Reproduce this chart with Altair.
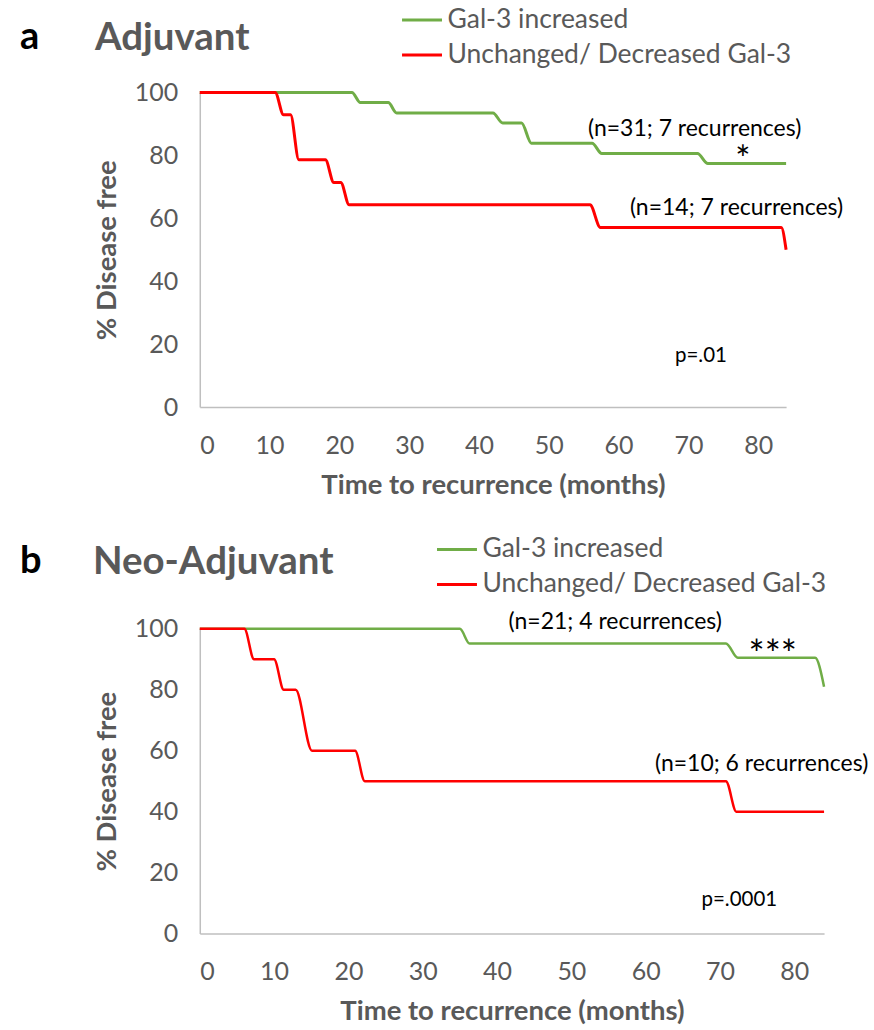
import altair as alt
import pandas as pd

series_names = ["Gal-3 increased", "Unchanged/ Decreased Gal-3"]
series_colors = ["#70AD47", "#FF0000"]

x_ticks = [0, 10, 20, 30, 40, 50, 60, 70, 80]
y_ticks = [0, 20, 40, 60, 80, 100]

# Panel a (Adjuvant)
a_green_t = [0, 21.8, 23.0, 27.0, 28.2, 42.0, 43.4, 46.1, 47.5, 56.2, 57.6, 71.3, 72.8, 84.0]
a_green_v = [100, 100, 96.8, 96.8, 93.5, 93.5, 90.3, 90.3, 83.9, 83.9, 80.6, 80.6, 77.4, 77.4]
a_red_t = [0, 10.8, 12.0, 13.0, 14.2, 18.0, 19.2, 20.2, 21.4, 55.9, 57.4, 83.3, 84.0]
a_red_v = [100, 100, 92.9, 92.9, 78.6, 78.6, 71.4, 71.4, 64.3, 64.3, 57.1, 57.1, 50.0]
a_note_text = ["(n=31; 7 recurrences)", "(n=14; 7 recurrences)"]
a_note_x = [70.9, 76.9]
a_note_y = [88.3, 63.2]
a_star_text = ["*"]
a_star_x = [77.8]
a_star_y = [78.1]
a_p_text = ["p=.01"]
a_p_x = [71.8]
a_p_y = [16.3]

# Panel b (Neo-Adjuvant)
b_green_t = [0, 35.0, 36.3, 70.8, 72.4, 82.8, 84.0]
b_green_v = [100, 100, 95.2, 95.2, 90.5, 90.5, 81.0]
b_red_t = [0, 6.0, 7.3, 10.0, 11.3, 12.9, 15.1, 20.9, 22.2, 70.8, 72.2, 84.0]
b_red_v = [100, 100, 90, 90, 80, 80, 60, 60, 50, 50, 40, 40]
b_note_text = ["(n=21; 4 recurrences)", "(n=10; 6 recurrences)"]
b_note_x = [55.9, 75.6]
b_note_y = [102.4, 55.6]
b_star_text = ["***"]
b_star_x = [77.1]
b_star_y = [90.6]
b_p_text = ["p=.0001"]
b_p_x = [72.6]
b_p_y = [11.0]

FONT = "Lato"
GREY = "#595959"


def panel(gt, gv, rt, rv, nt, nx, ny, st, sx, sy, pt, px, py,
          letter, title, width, height, leg_x, leg_y, title_dx, title_dy, lw, star_fs):
    df = pd.DataFrame({
        "t": gt + rt,
        "v": gv + rv,
        "s": [series_names[0]] * len(gt) + [series_names[1]] * len(rt),
    })
    color = alt.Color(
        "s:N",
        scale=alt.Scale(domain=series_names, range=series_colors),
        legend=alt.Legend(
            title=None, orient="none", legendX=leg_x, legendY=leg_y,
            direction="vertical", symbolType="stroke", symbolSize=1600,
            symbolStrokeWidth=3, labelFontSize=26.5, labelColor=GREY,
            labelFont=FONT, labelOffset=4, rowPadding=-1, padding=0,
            labelLimit=600,
        ),
    )
    x = alt.X("t:Q", scale=alt.Scale(domain=[0, 84], nice=False),
              axis=alt.Axis(values=x_ticks, title="Time to recurrence (months)"))
    y = alt.Y("v:Q", scale=alt.Scale(domain=[0, 100], nice=False),
              axis=alt.Axis(values=y_ticks, title="% Disease free"))
    base = alt.Chart(df).encode(x=x, y=y, color=color)
    green = base.transform_filter(alt.datum.s == series_names[0]).mark_line(
        interpolate="monotone", strokeWidth=lw)
    red = base.transform_filter(alt.datum.s == series_names[1]).mark_line(
        interpolate="monotone", strokeWidth=lw)

    notes = alt.Chart(pd.DataFrame({"x": nx, "y": ny, "label": nt})).mark_text(
        fontSize=23, font=FONT, color="#000000", align="center", baseline="middle"
    ).encode(x="x:Q", y="y:Q", text="label:N")
    stars = alt.Chart(pd.DataFrame({"x": sx, "y": sy, "label": st})).mark_text(
        fontSize=star_fs, font=FONT, color="#000000", align="center", baseline="middle"
    ).encode(x="x:Q", y="y:Q", text="label:N")
    pvals = alt.Chart(pd.DataFrame({"x": px, "y": py, "label": pt})).mark_text(
        fontSize=20.5, font=FONT, color="#000000", align="center", baseline="middle"
    ).encode(x="x:Q", y="y:Q", text="label:N")

    let = alt.Chart(pd.DataFrame({"label": [letter]})).mark_text(
        fontSize=38, font=FONT, fontWeight="bold", color="#000000",
        align="left", baseline="middle"
    ).encode(x=alt.value(-180), y=alt.value(title_dy), text="label:N")
    ttl = alt.Chart(pd.DataFrame({"label": [title]})).mark_text(
        fontSize=38.5, font=FONT, fontWeight="bold", color=GREY,
        align="left", baseline="middle"
    ).encode(x=alt.value(title_dx), y=alt.value(title_dy), text="label:N")

    return alt.layer(green, red, notes, stars, pvals, let, ttl).properties(
        width=width, height=height)


pa = panel(a_green_t, a_green_v, a_red_t, a_red_v,
           a_note_text, a_note_x, a_note_y, a_star_text, a_star_x, a_star_y,
           a_p_text, a_p_x, a_p_y, "a", "Adjuvant", 587, 315,
           201, -94, -105, -55, 3, 36)
pb = panel(b_green_t, b_green_v, b_red_t, b_red_v,
           b_note_text, b_note_x, b_note_y, b_star_text, b_star_x, b_star_y,
           b_p_text, b_p_x, b_p_y, "b", "Neo-Adjuvant", 625, 305,
           236, -101, -107, -67, 2.5, 38)

chart = alt.vconcat(pa, pb, spacing=29).resolve_scale(
    x="independent", y="independent", color="independent"
).properties(
    padding={"left": 20, "top": -2, "right": 5, "bottom": 2}
).configure_view(stroke=None).configure_axis(
    grid=False, ticks=False, domainColor="#BFBFBF", domainWidth=1.5,
    labelFont=FONT, labelFontSize=25, labelColor=GREY,
    titleFont=FONT, titleFontSize=27.5, titleFontWeight="bold", titleColor=GREY,
).configure_axisX(labelPadding=26, titlePadding=13).configure_axisY(
    labelPadding=22, titlePadding=13
)

chart.save("out.html", embed_options={"renderer": "svg", "actions": False})
